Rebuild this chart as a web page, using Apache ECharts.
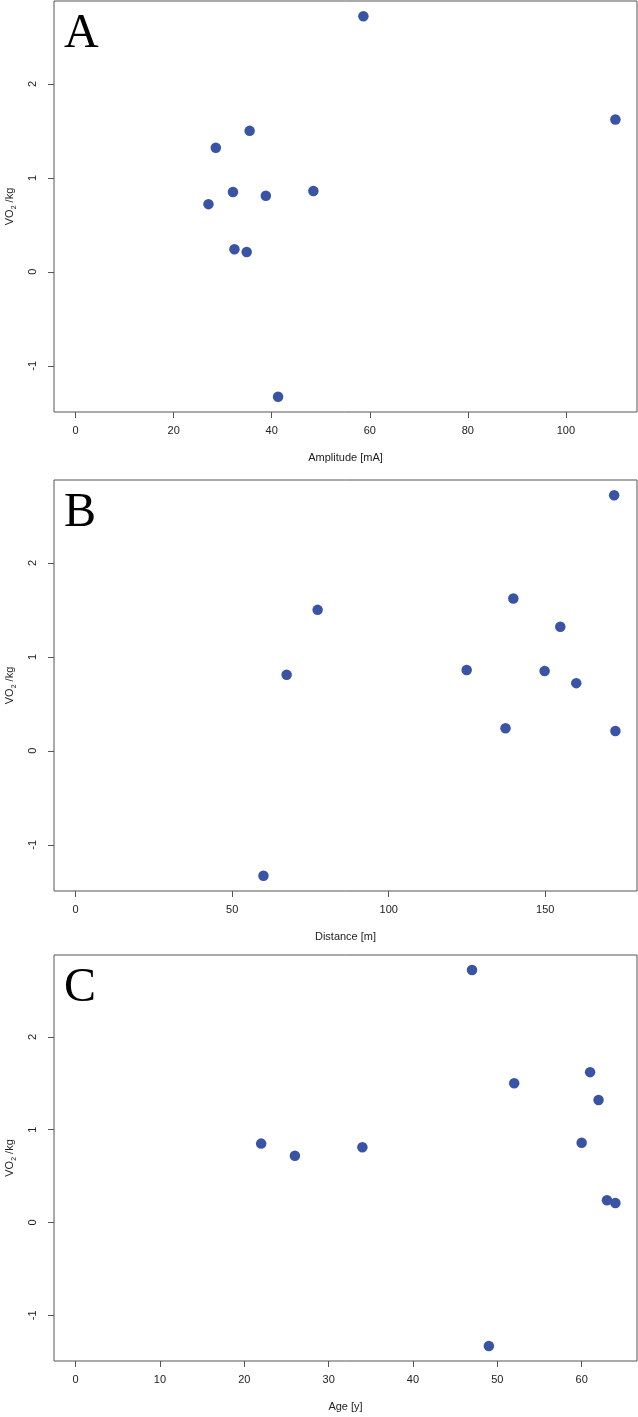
<!DOCTYPE html>
<html>
<head>
<meta charset="utf-8">
<script src="https://cdn.jsdelivr.net/npm/echarts@6/dist/echarts.min.js"></script>
<style>
  html, body { margin: 0; padding: 0; background: #fff; }
  #chart { width: 638px; height: 1417px; }
</style>
</head>
<body>
<div id="chart"></div>
<script>
// one entry per subject, same order in every array
const vo2 = [2.72, 1.62, 1.50, 1.32, 0.86, 0.85, 0.81, 0.72, 0.24, 0.21, -1.33]
const amplitude = [58.7, 110.1, 35.5, 28.6, 48.5, 32.1, 38.8, 27.1, 32.4, 34.9, 41.3]
const distance = [172, 139.8, 77.3, 154.8, 124.9, 149.8, 67.4, 159.9, 137.3, 172.4, 60.0]
const age = [47, 61, 52, 62, 60, 22, 34, 26, 63, 64, 49]

const ampTicks = [0, 20, 40, 60, 80, 100]
const distTicks = [0, 50, 100, 150]
const ageTicks = [0, 10, 20, 30, 40, 50, 60]
const vo2Ticks = [-1, 0, 1, 2]

const panels = [
  { letter: 'A', x: amplitude, ticks: ampTicks, title: 'Amplitude [mA]', top: 1, height: 411 },
  { letter: 'B', x: distance, ticks: distTicks, title: 'Distance [m]', top: 480, height: 411 },
  { letter: 'C', x: age, ticks: ageTicks, title: 'Age [y]', top: 955, height: 406 }
]

// R style range: data range (x axis forced to include 0) padded by 4% each side
function padRange(vals, withZero) {
  let lo = Math.min(...vals)
  const hi = Math.max(...vals)
  if (withZero) lo = Math.min(lo, 0)
  const p = (hi - lo) * 0.04
  return [lo - p, hi + p]
}

const font = '"Liberation Sans", Arial, sans-serif'
const textColor = '#222'
const lineColor = '#555'
const yr = padRange(vo2, false)

const grid = []
const xAxis = []
const yAxis = []
const series = []
const graphic = []

panels.forEach(function(p, i) {
  const xr = padRange(p.x, true)
  grid.push({
    left: 54, right: 1, top: p.top, height: p.height,
    outerBoundsMode: 'none', containLabel: false,
    show: true, borderColor: lineColor, borderWidth: 1
  })
  xAxis.push({
    type: 'value', gridIndex: i, min: xr[0], max: xr[1],
    axisLine: { show: false, onZero: false },
    splitLine: { show: false },
    axisTick: { show: true, customValues: p.ticks, length: 6, lineStyle: { color: lineColor } },
    axisLabel: { customValues: p.ticks, margin: 13, fontSize: 11, color: textColor, fontFamily: font },
    name: p.title, nameLocation: 'middle', nameGap: 40,
    nameTextStyle: { fontSize: 11, color: textColor, fontFamily: font }
  })
  yAxis.push({
    type: 'value', gridIndex: i, min: yr[0], max: yr[1],
    axisLine: { show: false, onZero: false },
    splitLine: { show: false },
    axisTick: { show: true, customValues: vo2Ticks, length: 6, lineStyle: { color: lineColor } },
    axisLabel: { customValues: vo2Ticks, rotate: 90, margin: 16, fontSize: 11, color: textColor, fontFamily: font },
    name: '{n|VO}{s|2}{n| /kg}', nameLocation: 'middle', nameGap: 36,
    nameTextStyle: {
      color: textColor, fontFamily: font,
      rich: {
        n: { fontSize: 11, lineHeight: 16, color: textColor, fontFamily: font, verticalAlign: 'middle' },
        s: { fontSize: 7, lineHeight: 9, color: textColor, fontFamily: font, verticalAlign: 'bottom' }
      }
    }
  })
  series.push({
    type: 'scatter', xAxisIndex: i, yAxisIndex: i,
    data: p.x.map(function(v, k) { return [v, vo2[k]] }),
    symbolSize: 10.5,
    itemStyle: { color: '#3953a5', opacity: 1 },
    silent: true
  })
  graphic.push({
    type: 'text', left: 64, top: p.top + 9,
    style: { text: p.letter, font: '48px "Liberation Serif", "Times New Roman", serif', fill: '#000' }
  })
})

const chart = echarts.init(document.getElementById('chart'), null, { renderer: 'canvas' })
chart.setOption({
  animation: false,
  backgroundColor: '#fff',
  grid: grid,
  xAxis: xAxis,
  yAxis: yAxis,
  series: series,
  graphic: graphic
})
</script>
</body>
</html>
